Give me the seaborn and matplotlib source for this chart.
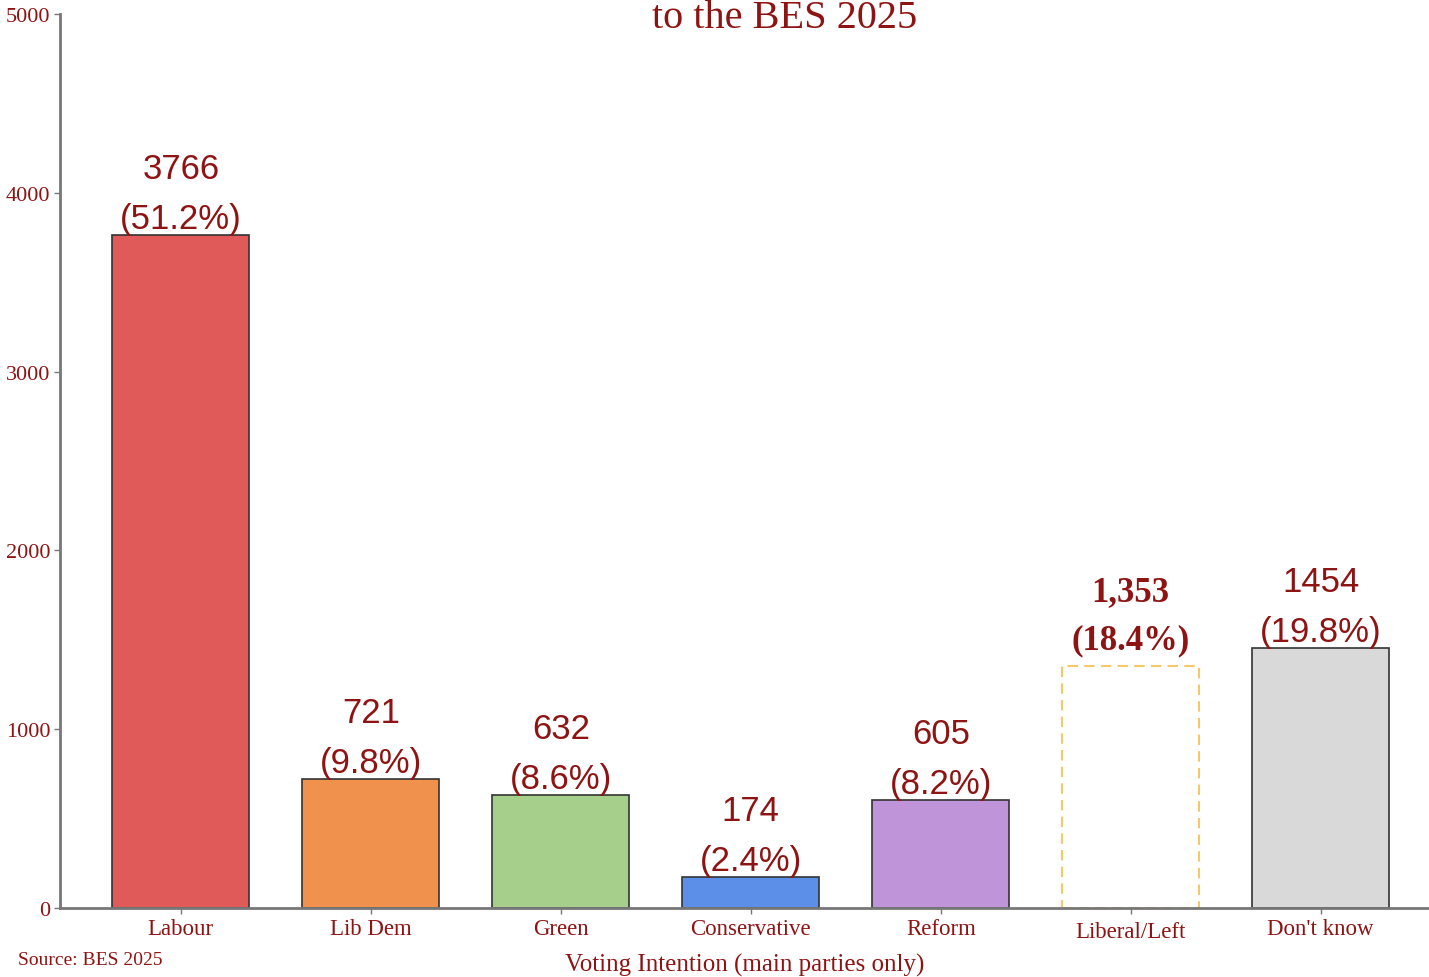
import numpy as np
import pandas as pd
import seaborn as sns
import matplotlib.pyplot as plt

# Dados
parties = ['Labour', 'Lib Dem', 'Green', 'Conservative', 'Reform', 'Liberal/Left', "Don't know"]
counts = [3766, 721, 632, 174, 605, 1353, 1454]
count_labels = ['3766', '721', '632', '174', '605', '1,353', '1454']
pct_labels = ['(51.2%)', '(9.8%)', '(8.6%)', '(2.4%)', '(8.2%)', '(18.4%)', '(19.8%)']
bar_colors = ['#E05A5A', '#F0924E', '#A6CF8C', '#5B8FE8', '#BF94D8', '#FFFFFF', '#D9D9D9']
y_ticks = [0, 1000, 2000, 3000, 4000, 5000]

dark_red = '#8E1414'
serif = ['Liberation Serif', 'DejaVu Serif']
sans = ['Liberation Sans', 'DejaVu Sans']

sns.set_style('white')
plt.rcParams['font.family'] = serif

df = pd.DataFrame({'party': parties, 'count': counts})

fig = plt.figure(figsize=(14.29, 9.78), dpi=100)
ax = fig.add_axes([0.042, 0.0706, 0.958, 0.9141])

sns.barplot(data=df, x='party', y='count', hue='party', palette=dict(zip(parties, bar_colors)),
            width=0.72, saturation=1, edgecolor='#333333', linewidth=1.2, legend=False, ax=ax)

# Barra Liberal/Left tracejada
for patch, party in zip(ax.patches, parties):
    if party == 'Liberal/Left':
        patch.set_edgecolor('#F5C86A')
        patch.set_linestyle((0, (5, 3)))
        patch.set_linewidth(1.5)

# Rótulos de valor e percentagem
for i, (c, cl, pl) in enumerate(zip(counts, count_labels, pct_labels)):
    if parties[i] == 'Liberal/Left':
        kw = dict(family=serif, fontweight='bold', fontsize=25)
        off1, off2 = 10, 58
    else:
        kw = dict(family=sans, fontsize=25)
        off1, off2 = 0, 50
    ax.annotate(pl, (i, c), xytext=(0, off1), textcoords='offset pixels',
                ha='center', va='bottom', color=dark_red, **kw)
    ax.annotate(cl, (i, c), xytext=(0, off2), textcoords='offset pixels',
                ha='center', va='bottom', color=dark_red, **kw)

ax.set_ylim(0, 5000)
ax.set_xlim(-0.636, 6.57)
ax.set_yticks(y_ticks)
ax.set_yticklabels([str(t) for t in y_ticks], fontsize=16, color=dark_red)
ax.set_xticks(range(len(parties)))
ax.set_xticklabels(parties, fontsize=16.5, color=dark_red)
ax.tick_params(axis='both', length=4, width=1, color='#777777', direction='out',
               bottom=True, left=True, pad=3)
# Liberal/Left fica um pouco mais abaixo no original
for lbl in ax.get_xticklabels():
    if lbl.get_text() == 'Liberal/Left':
        lbl.set_y(-0.004)
ax.set_xlabel('Voting Intention (main parties only)', fontsize=18, color=dark_red, labelpad=8)
ax.set_ylabel('')

sns.despine(ax=ax)
for s in ['left', 'bottom']:
    ax.spines[s].set_color('#777777')
    ax.spines[s].set_linewidth(2)

fig.text(785 / 1429, 1.0, 'to the BES 2025', ha='center', va='top',
         fontsize=29, color=dark_red)
fig.text(18 / 1429, 1 - 961 / 978, 'Source: BES 2025', ha='left', va='center',
         fontsize=14, color=dark_red)

plt.savefig('out.png', dpi=100)
